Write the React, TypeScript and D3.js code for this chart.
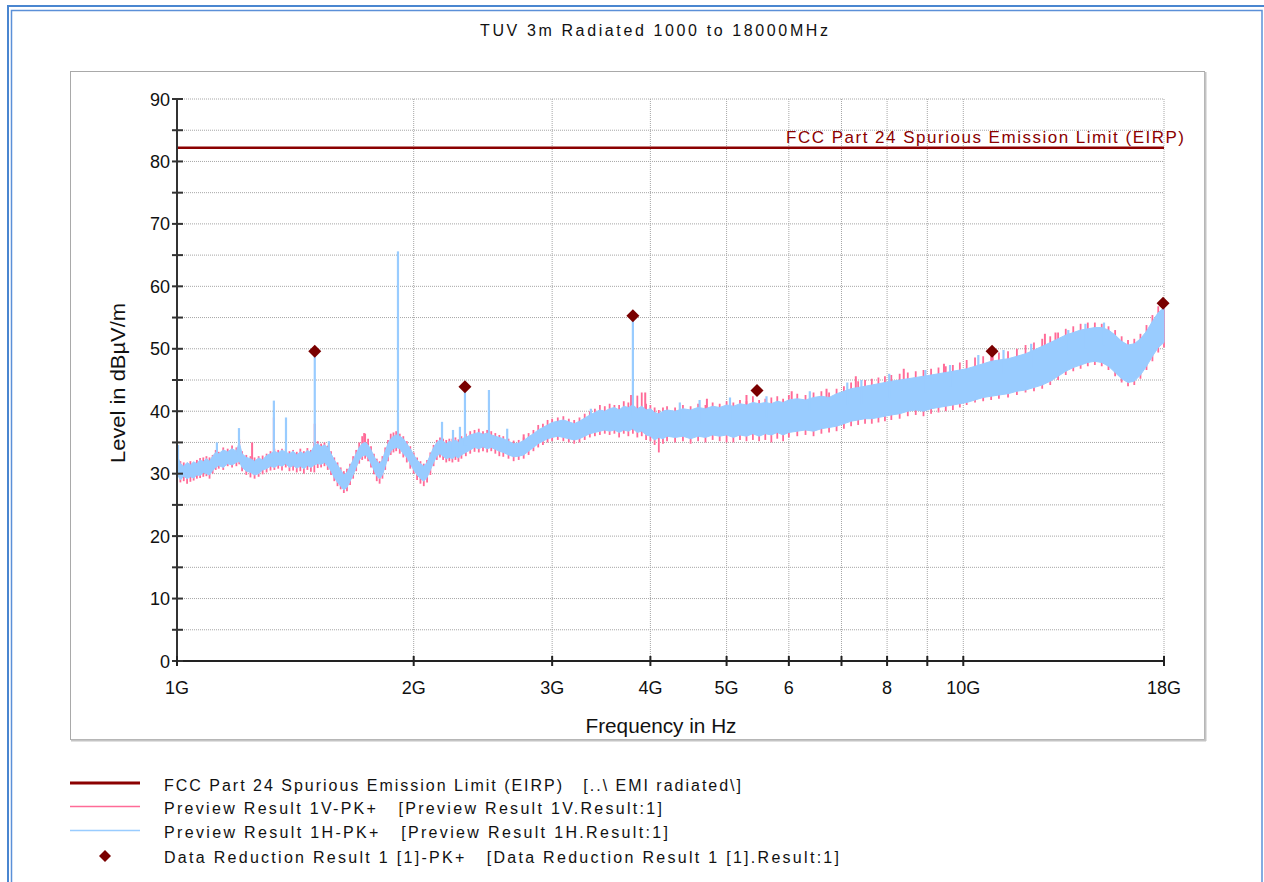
import React from "react";
import * as d3 from "d3";

// ---------- data ----------
const freqGHz = [
  1.0, 1.01, 1.02, 1.03, 1.04, 1.05, 1.06, 1.07, 1.08, 1.09, 1.1, 1.11, 1.12, 1.13, 1.145, 1.16, 1.175, 1.19, 1.2, 1.21,
  1.225, 1.24, 1.255, 1.27, 1.285, 1.3, 1.315, 1.33, 1.345, 1.36, 1.375, 1.39, 1.405, 1.42, 1.435, 1.45, 1.465, 1.48, 1.495, 1.51,
  1.525, 1.54, 1.555, 1.57, 1.585, 1.6, 1.615, 1.63, 1.645, 1.66, 1.675, 1.69, 1.705, 1.72, 1.735, 1.75, 1.765, 1.78, 1.795, 1.81,
  1.825, 1.84, 1.855, 1.87, 1.885, 1.9, 1.92, 1.94, 1.96, 1.98, 2.0, 2.02, 2.04, 2.06, 2.08, 2.1, 2.12, 2.14, 2.16, 2.18,
  2.2, 2.22, 2.24, 2.26, 2.28, 2.3, 2.33, 2.36, 2.39, 2.42, 2.45, 2.48, 2.51, 2.54, 2.57, 2.6, 2.64, 2.68, 2.72, 2.76,
  2.8, 2.84, 2.88, 2.92, 2.96, 3.0, 3.05, 3.1, 3.15, 3.2, 3.25, 3.3, 3.35, 3.4, 3.45, 3.5, 3.55, 3.6, 3.65, 3.7,
  3.75, 3.8, 3.85, 3.9, 3.95, 4.0, 4.05, 4.1, 4.15, 4.2, 4.3, 4.4, 4.5, 4.6, 4.7, 4.8, 4.9, 5.0, 5.1, 5.2,
  5.3, 5.4, 5.5, 5.6, 5.7, 5.8, 5.9, 6.0, 6.15, 6.3, 6.45, 6.6, 6.75, 6.9, 7.05, 7.2, 7.35, 7.5, 7.65, 7.8,
  7.95, 8.1, 8.3, 8.5, 8.7, 8.9, 9.1, 9.3, 9.5, 9.7, 9.9, 10.1, 10.35, 10.6, 10.85, 11.1, 11.4, 11.7, 12.0, 12.3,
  12.6, 12.9, 13.2, 13.5, 13.8, 14.1, 14.4, 14.7, 15.0, 15.3, 15.6, 15.9, 16.2, 16.5, 16.8, 17.1, 17.4, 17.7, 18.0,
];

// Preview Result 1H-PK+ (blue) lower / upper envelope, dBµV/m
const hLo = [
  30.0, 29.0, 29.6, 29.2, 29.5, 29.3, 29.8, 29.7, 30.2, 30.0, 29.8, 30.5, 31.0, 31.3, 31.0, 31.6, 31.4, 31.8, 32.0, 31.0,
  30.4, 30.2, 29.8, 30.0, 30.6, 30.8, 31.2, 31.0, 31.4, 31.2, 31.6, 31.0, 31.3, 30.9, 31.2, 30.8, 31.3, 31.0, 31.4, 31.6,
  31.5, 31.8, 31.2, 30.4, 29.4, 28.6, 28.0, 27.4, 27.8, 28.8, 29.8, 31.0, 32.2, 32.8, 33.0, 32.6, 31.6, 30.6, 29.6, 29.2,
  29.8, 31.2, 32.6, 33.6, 34.0, 34.2, 34.0, 33.2, 32.6, 31.6, 30.6, 29.8, 29.2, 28.8, 29.4, 30.6, 31.8, 32.8, 33.2, 32.8,
  32.4, 32.6, 32.4, 32.8, 32.5, 33.0, 33.4, 33.8, 34.2, 34.0, 34.3, 34.0, 34.2, 33.9, 33.6, 33.4, 33.0, 32.7, 32.8, 33.0,
  33.6, 34.2, 34.8, 35.2, 35.6, 35.8, 36.0, 35.8, 35.6, 35.4, 35.6, 36.0, 36.4, 36.6, 36.8, 37.0, 36.8, 37.0, 36.6, 37.0,
  36.8, 37.2, 36.6, 36.8, 36.2, 36.0, 35.4, 35.8, 35.6, 36.0, 35.8, 36.0, 35.6, 36.0, 35.8, 36.2, 36.0, 36.2, 35.8, 36.2,
  36.0, 36.4, 36.0, 36.4, 36.2, 36.6, 36.2, 36.6, 36.8, 37.0, 36.8, 37.2, 37.4, 37.6, 38.0, 38.4, 38.6, 38.8, 38.8, 39.0,
  39.2, 39.4, 39.6, 40.0, 40.2, 40.0, 40.4, 40.6, 40.8, 41.0, 41.2, 41.4, 41.8, 42.2, 42.4, 42.6, 42.8, 43.2, 43.4, 43.8,
  44.2, 44.8, 45.6, 46.4, 47.0, 47.4, 47.8, 48.0, 47.8, 47.2, 46.2, 45.2, 44.6, 44.8, 45.8, 47.2, 48.8, 50.2, 51.0,
];
const hHi = [
  33.0, 31.6, 31.2, 31.8, 31.4, 31.9, 31.6, 32.2, 31.9, 32.4, 32.0, 32.8, 33.4, 33.2, 33.8, 33.5, 34.0, 33.6, 35.0, 33.2,
  32.6, 32.4, 32.0, 32.5, 32.2, 32.9, 33.2, 33.6, 33.3, 33.8, 33.4, 33.2, 33.6, 33.0, 33.5, 33.2, 33.7, 33.4, 34.5, 34.8,
  34.3, 34.6, 34.2, 33.2, 32.2, 31.4, 30.6, 29.8, 30.2, 31.2, 32.2, 33.2, 34.2, 34.8, 35.0, 34.6, 33.8, 32.8, 32.0, 31.6,
  32.2, 33.6, 34.8, 35.6, 36.0, 36.2, 36.0, 35.6, 34.8, 34.0, 33.0, 32.2, 31.6, 31.2, 31.8, 33.0, 34.2, 35.0, 35.4, 35.2,
  34.8, 35.2, 35.0, 35.4, 35.0, 35.6, 35.8, 36.2, 36.4, 36.6, 36.3, 36.5, 36.2, 36.0, 35.8, 35.6, 35.2, 34.8, 34.9, 35.3,
  35.9, 36.4, 37.0, 37.4, 37.8, 38.2, 38.4, 38.6, 38.3, 38.0, 38.4, 38.9, 39.4, 39.8, 40.2, 40.0, 40.4, 40.6, 40.2, 40.8,
  40.6, 41.0, 40.4, 40.8, 40.2, 40.4, 39.8, 39.6, 40.0, 40.2, 40.0, 40.4, 40.2, 40.6, 40.4, 40.8, 40.6, 41.0, 40.8, 41.2,
  41.0, 41.4, 41.2, 41.4, 41.2, 41.6, 41.4, 41.8, 42.0, 41.8, 42.2, 42.4, 42.2, 42.8, 43.2, 43.6, 43.8, 44.0, 44.2, 44.4,
  44.6, 44.8, 45.0, 45.2, 45.4, 45.6, 45.8, 46.0, 46.2, 46.4, 46.6, 46.8, 47.2, 47.6, 48.0, 48.2, 48.4, 48.8, 49.2, 49.8,
  50.4, 51.0, 51.6, 52.2, 52.6, 53.0, 53.2, 53.4, 53.4, 53.0, 52.2, 51.2, 50.6, 50.8, 51.6, 52.8, 54.4, 55.8, 56.6,
];
// Preview Result 1V-PK+ (pink) lower / upper envelope, dBµV/m
const vLo = [
  29.5, 28.6, 28.8, 28.4, 28.7, 28.9, 29.2, 29.3, 29.5, 29.6, 29.2, 30.0, 30.6, 30.8, 30.6, 31.2, 31.0, 31.2, 31.5, 30.4,
  29.8, 29.4, 29.2, 29.5, 29.9, 30.2, 30.5, 30.6, 30.8, 30.5, 31.0, 30.4, 30.5, 30.2, 30.4, 30.0, 30.6, 30.3, 30.2, 30.9,
  31.0, 31.2, 30.6, 29.8, 28.8, 28.0, 27.5, 26.9, 27.2, 28.2, 29.2, 30.4, 31.6, 32.2, 32.4, 32.0, 31.0, 29.9, 28.8, 28.4,
  29.2, 30.6, 32.0, 33.0, 33.4, 33.6, 33.2, 32.6, 31.8, 30.8, 30.0, 29.0, 28.4, 28.0, 28.6, 29.8, 31.2, 32.2, 32.6, 32.2,
  31.8, 32.0, 31.8, 32.2, 31.9, 32.4, 32.8, 33.2, 33.5, 33.4, 33.6, 33.4, 33.6, 33.2, 32.8, 32.7, 32.4, 32.0, 32.2, 32.4,
  33.0, 33.6, 34.2, 34.6, 35.0, 35.2, 35.4, 35.2, 35.0, 34.8, 35.0, 35.4, 35.8, 36.0, 36.2, 36.4, 36.2, 36.4, 35.8, 36.4,
  36.0, 36.4, 35.8, 36.0, 35.4, 35.2, 34.6, 33.4, 34.8, 35.2, 35.0, 35.2, 34.8, 35.2, 35.0, 35.4, 35.2, 35.0, 35.0, 35.4,
  35.2, 35.4, 35.2, 35.4, 35.0, 35.6, 35.2, 35.8, 36.0, 36.2, 36.0, 36.4, 36.6, 36.8, 37.2, 37.6, 37.8, 38.0, 38.0, 38.2,
  38.4, 38.6, 38.8, 39.2, 39.4, 39.2, 39.6, 39.8, 40.0, 40.2, 40.6, 41.0, 41.4, 41.6, 41.8, 42.0, 42.2, 42.6, 43.0, 43.2,
  43.6, 44.2, 45.0, 45.8, 46.4, 46.8, 47.2, 47.4, 47.2, 46.6, 45.6, 44.6, 44.0, 44.2, 45.2, 46.6, 48.0, 49.4, 50.2,
];
const vHi = [
  32.0, 32.0, 31.8, 31.5, 32.0, 31.6, 32.2, 32.5, 32.6, 32.8, 32.6, 33.0, 33.8, 33.5, 34.2, 34.0, 34.5, 34.2, 35.5, 33.6,
  33.0, 32.8, 32.6, 32.8, 32.9, 33.2, 33.6, 34.0, 33.8, 34.0, 33.9, 33.6, 33.8, 33.5, 34.0, 33.6, 34.1, 33.8, 35.0, 35.2,
  34.8, 35.0, 34.5, 33.6, 32.6, 31.8, 31.0, 30.4, 30.8, 31.6, 32.8, 33.8, 35.0, 36.0, 36.4, 35.6, 34.4, 33.2, 32.4, 32.0,
  32.8, 34.2, 35.4, 36.4, 36.6, 36.8, 36.4, 36.0, 35.2, 34.4, 33.4, 32.6, 32.0, 31.6, 32.2, 33.4, 34.6, 35.4, 35.8, 35.6,
  35.4, 35.6, 35.6, 35.8, 35.5, 36.0, 36.4, 36.8, 37.0, 37.2, 36.8, 37.0, 36.8, 36.5, 36.2, 36.0, 35.6, 35.3, 35.4, 35.8,
  36.5, 37.0, 37.8, 38.0, 38.6, 38.8, 39.0, 39.2, 38.8, 38.6, 39.0, 39.6, 40.0, 40.4, 41.0, 40.8, 41.2, 41.0, 41.0, 41.6,
  41.4, 41.8, 42.5, 43.0, 41.2, 41.0, 40.6, 40.2, 40.6, 40.8, 40.6, 41.0, 40.8, 41.2, 41.0, 41.4, 41.2, 41.6, 41.4, 41.8,
  41.6, 42.4, 41.8, 42.0, 42.2, 42.4, 42.0, 42.6, 42.8, 42.6, 43.0, 43.2, 43.0, 43.6, 44.0, 44.6, 44.8, 45.0, 45.2, 45.4,
  45.6, 45.8, 46.0, 46.2, 46.4, 46.6, 46.8, 47.0, 47.2, 47.4, 47.8, 48.2, 48.6, 48.8, 49.2, 49.4, 49.6, 50.0, 50.6, 51.0,
  51.6, 52.0, 52.6, 53.2, 53.6, 54.0, 54.2, 54.2, 54.0, 53.6, 53.0, 52.0, 51.4, 51.6, 52.4, 53.8, 55.4, 56.8, 57.2,
];

// narrow spurious spikes and noise peaks (frequency GHz, peak level, level at foot)
const hSpikeFreq = [
  1.003, 1.124, 1.199, 1.328, 1.376, 1.497, 1.56, 1.91, 2.173, 2.244, 2.29, 2.324, 2.493, 3.8,
  2.63, 3.36, 4.36, 4.62, 5.05, 5.62, 6.38, 7.12, 7.42, 8.05, 8.95, 9.62, 10.45, 11.25, 12.2, 13.6, 14.3, 15.1,
];
const hSpikeLevel = [
  34.6, 35.0, 37.3, 41.7, 39.0, 49.4, 35.2, 65.6, 38.3, 37.0, 37.5, 43.5, 43.4, 55.0,
  37.2, 40.4, 41.4, 41.8, 42.2, 42.4, 43.2, 44.6, 45.0, 46.0, 46.6, 47.4, 49.0, 49.8, 50.8, 53.0, 54.0, 54.2,
];
const hSpikeFoot = [
  31.0, 32.0, 33.0, 32.5, 32.5, 33.0, 33.0, 35.0, 34.0, 33.5, 33.5, 34.5, 35.0, 39.0,
  34.0, 38.0, 38.0, 38.0, 38.5, 39.0, 40.0, 41.0, 41.0, 42.0, 43.0, 44.0, 45.0, 46.0, 47.0, 49.0, 50.0, 50.5,
];
const vSpikeFreq = [1.246, 1.328, 1.376, 1.497, 1.73, 2.76, 3.78, 3.94, 4.72, 5.3, 6.05, 6.7, 7.3, 8.4, 9.45, 10.9, 12.7, 13.1];
const vSpikeLevel = [35.0, 39.0, 38.8, 38.0, 36.5, 36.3, 42.6, 43.0, 42.0, 42.6, 43.2, 43.6, 45.6, 46.8, 47.6, 49.8, 52.4, 52.6];
const vSpikeFoot = [32.0, 32.0, 32.0, 32.0, 33.0, 34.0, 39.0, 39.0, 39.0, 39.0, 40.0, 40.0, 42.0, 43.0, 44.0, 46.0, 48.0, 48.0];

// Data Reduction Result 1 [1]-PK+
const peakFreq = [1.497, 2.324, 3.8, 5.466, 10.88, 17.95];
const peakLevel = [49.6, 43.9, 55.3, 43.3, 49.6, 57.3];

// FCC Part 24 limit
const limitFreq = [1, 18];
const limitLevel = [82.2, 82.2];

const xTickValues = [1, 2, 3, 4, 5, 6, 7, 8, 9, 10, 18];
const xTickLabels = ["1G", "2G", "3G", "4G", "5G", "6", "", "8", "", "10G", "18G"];
const yTickValues = [0, 10, 20, 30, 40, 50, 60, 70, 80, 90];
const yMinorValues = [5, 15, 25, 35, 45, 55, 65, 75, 85];

const legendLabels = [
  "FCC Part 24 Spurious Emission Limit (EIRP)   [..\\ EMI radiated\\]",
  "Preview Result 1V-PK+   [Preview Result 1V.Result:1]",
  "Preview Result 1H-PK+   [Preview Result 1H.Result:1]",
  "Data Reduction Result 1 [1]-PK+   [Data Reduction Result 1 [1].Result:1]",
];

// ---------- style ----------
const FONT = "'Liberation Sans', Arial, sans-serif";
const RED = "#8b0000";
const PINK = "#ff6b98";
const BLUE = "#99ccff";

export default function App() {
  const x = d3.scaleLog().domain([1, 18]).range([177, 1164]);
  const y = d3.scaleLinear().domain([0, 90]).range([661, 99]);

  const idx = freqGHz.map((_, i) => i);
  const blueArea = d3
    .area<number>()
    .x((i) => x(freqGHz[i]))
    .y0((i) => y(hLo[i]))
    .y1((i) => y(hHi[i]))(idx) as string;
  const limitPath = d3
    .line<number>()
    .x((i) => x(limitFreq[i]))
    .y((i) => y(limitLevel[i]))([0, 1]) as string;

  const diamond = (cx: number, cy: number, r: number) =>
    `M${cx},${cy - r}L${cx + r},${cy}L${cx},${cy + r}L${cx - r},${cy}Z`;

  const legendY = [791, 814, 838, 863];
  const legendLen = [577, 498, 504, 675];

  return (
    <svg
      width={1264}
      height={882}
      style={{ position: "absolute", left: 0, top: 0, display: "block", background: "#fff" }}
      fontFamily={FONT}
    >
      {/* window borders */}
      <rect x={8} y={6} width={1270} height={900} fill="none" stroke="#4a86d0" strokeWidth={2} />
      <rect x={11.5} y={10.5} width={1250.5} height={900} fill="none" stroke="#5b90d8" strokeWidth={1.5} />

      {/* title */}
      <text x={480} y={36} fontSize={16} textLength={348} lengthAdjust="spacing" fill="#111">
        TUV 3m Radiated 1000 to 18000MHz
      </text>

      {/* chart frame */}
      <rect x={70.5} y={71.5} width={1134} height={668} fill="#fff" stroke="#a9a9a9" strokeWidth={1} />
      <line x1={71} y1={740.5} x2={1206} y2={740.5} stroke="#c4c4c4" strokeWidth={2} />
      <line x1={1205.5} y1={72} x2={1205.5} y2={741} stroke="#c4c4c4" strokeWidth={2} />

      {/* grid */}
      {[...yTickValues, ...yMinorValues]
        .filter((v) => v > 0)
        .map((v) => (
          <line key={"hg" + v} x1={178} x2={1164} y1={y(v)} y2={y(v)} stroke="#a6a6a6" strokeWidth={1} strokeDasharray="1 1" />
        ))}
      {xTickValues
        .filter((v) => v > 1)
        .map((v) => (
          <line key={"vg" + v} x1={x(v)} x2={x(v)} y1={y(90)} y2={y(0)} stroke="#a6a6a6" strokeWidth={1} strokeDasharray="1 1" />
        ))}

      {/* limit */}
      <path d={limitPath} stroke={RED} strokeWidth={2.5} fill="none" />
      <text x={786} y={143} fontSize={17} fill={RED} textLength={398} lengthAdjust="spacing">
        FCC Part 24 Spurious Emission Limit (EIRP)
      </text>

      {/* pink (V) trace */}
      {idx.map((i) => (
        <line key={"vp" + i} x1={x(freqGHz[i])} x2={x(freqGHz[i])} y1={y(vLo[i])} y2={y(vHi[i])} stroke={PINK} strokeWidth={1.8} />
      ))}
      {vSpikeFreq.map((f, i) => (
        <line key={"vs" + i} x1={x(f)} x2={x(f)} y1={y(vSpikeLevel[i])} y2={y(vSpikeFoot[i])} stroke={PINK} strokeWidth={2} />
      ))}

      {/* blue (H) trace */}
      <path d={blueArea} fill={BLUE} stroke={BLUE} strokeWidth={1} />
      {hSpikeFreq.map((f, i) => (
        <line key={"hs" + i} x1={x(f)} x2={x(f)} y1={y(hSpikeLevel[i])} y2={y(hSpikeFoot[i])} stroke={BLUE} strokeWidth={2.2} />
      ))}

      {/* peaks */}
      {peakFreq.map((f, i) => (
        <path key={"pk" + i} d={diamond(x(f), y(peakLevel[i]), 6.5)} fill="#7a0000" />
      ))}

      {/* axes */}
      <line x1={177} x2={177} y1={99} y2={662} stroke="#333" strokeWidth={2} />
      <line x1={176} x2={1164} y1={661} y2={661} stroke="#222" strokeWidth={2} />
      {[...yTickValues, ...yMinorValues].map((v) => (
        <line key={"yt" + v} x1={172} x2={183} y1={y(v)} y2={y(v)} stroke="#333" strokeWidth={2} />
      ))}
      {yTickValues.map((v) => (
        <text key={"yl" + v} x={170} y={y(v) + 6.5} fontSize={18} textAnchor="end" fill="#111">
          {v}
        </text>
      ))}
      {xTickValues.map((v) => (
        <line key={"xt" + v} x1={x(v)} x2={x(v)} y1={656} y2={666} stroke="#222" strokeWidth={2} />
      ))}
      {xTickValues.map((v, i) => (
        <text key={"xl" + v} x={x(v)} y={694} fontSize={18} textAnchor="middle" fill="#111">
          {xTickLabels[i]}
        </text>
      ))}

      {/* axis titles */}
      <text x={661} y={733} fontSize={20} textAnchor="middle" textLength={151} lengthAdjust="spacingAndGlyphs" fill="#111">
        Frequency in Hz
      </text>
      <text
        transform="translate(125,383) rotate(-90)"
        fontSize={21}
        textAnchor="middle"
        textLength={160}
        lengthAdjust="spacingAndGlyphs"
        fill="#111"
      >
        Level in dBµV/m
      </text>

      {/* legend */}
      <line x1={70} x2={140} y1={783} y2={783} stroke={RED} strokeWidth={3} />
      <line x1={70} x2={140} y1={806.5} y2={806.5} stroke={PINK} strokeWidth={1.5} />
      <line x1={70} x2={140} y1={830.5} y2={830.5} stroke={BLUE} strokeWidth={1.5} />
      <path d={diamond(105, 856, 6)} fill="#7a0000" />
      {legendLabels.map((t, i) => (
        <text
          key={"lg" + i}
          x={164}
          y={legendY[i]}
          fontSize={16}
          textLength={legendLen[i]}
          lengthAdjust="spacing"
          style={{ whiteSpace: "pre" }}
          fill="#111"
        >
          {t}
        </text>
      ))}
    </svg>
  );
}
